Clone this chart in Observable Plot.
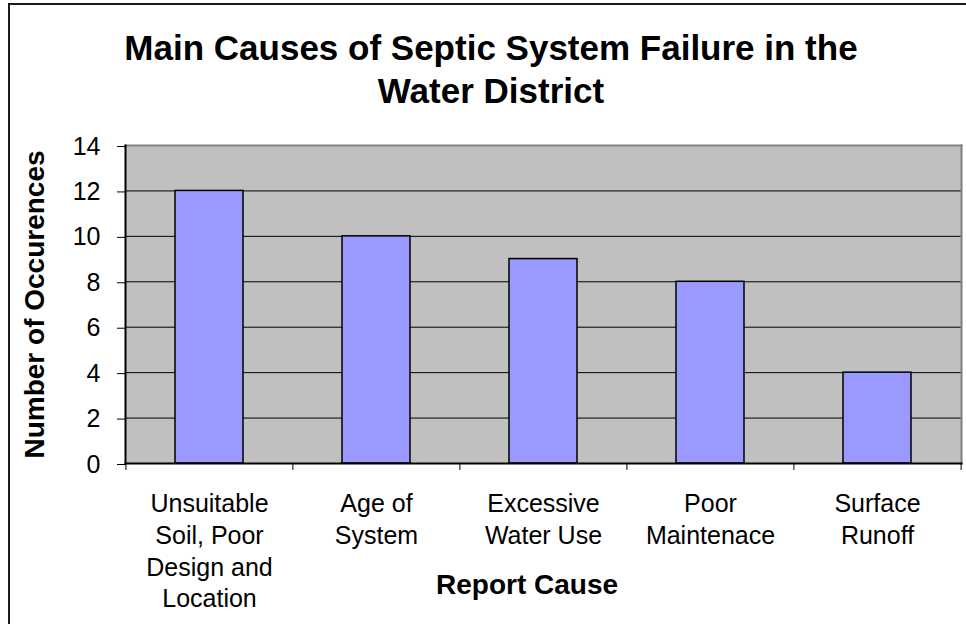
<!DOCTYPE html>
<html>
<head>
<meta charset="utf-8">
<script src="https://cdn.jsdelivr.net/npm/d3@7"></script>
<script src="https://cdn.jsdelivr.net/npm/@observablehq/plot@0.6"></script>
<style>
  html, body { margin: 0; padding: 0; background: white; }
  #wrap { position: relative; width: 966px; height: 624px; overflow: hidden; background: white;
          font-family: "Liberation Sans", Arial, sans-serif; }
  #border { position: absolute; left: 8px; top: 3px; width: 1200px; height: 1200px;
            border: 2px solid #1a1a1a; box-sizing: border-box; }
  #title { position: absolute; left: 0; top: 26px; width: 982px; text-align: center;
           font-weight: bold; font-size: 35px; line-height: 43px; color: #000; }
  #chart { position: absolute; left: 0; top: 0; }
</style>
</head>
<body>
<div id="wrap">
  <div id="border"></div>
  <div id="chart"></div>
  <div id="title">Main Causes of Septic System Failure in the<br>Water District</div>
</div>
<script>
const categories = [
  "Unsuitable Soil, Poor Design and Location",
  "Age of System",
  "Excessive Water Use",
  "Poor Maintenace",
  "Surface Runoff"
];
const values = [12, 10, 9, 8, 4];
const tickLabels = [
  "Unsuitable\nSoil, Poor\nDesign and\nLocation",
  "Age of\nSystem",
  "Excessive\nWater Use",
  "Poor\nMaintenace",
  "Surface\nRunoff"
];
const yTicks = [0, 2, 4, 6, 8, 10, 12, 14];
const gridValues = [2, 4, 6, 8, 10, 12];
const yTitle = "Number of Occurences";
const xTitle = "Report Cause";

const data = categories.map((c, i) => ({cause: c, count: values[i]}));
const labelOf = new Map(categories.map((c, i) => [c, tickLabels[i]]));

const W = 966, H = 624;
const mL = 125, mR = 5, mT = 145, mB = 161;
const halfStep = (W - mL - mR) / categories.length / 2;

const chart = Plot.plot({
  width: W,
  height: H,
  marginLeft: mL,
  marginRight: mR,
  marginTop: mT,
  marginBottom: mB,
  style: {fontFamily: '"Liberation Sans", Arial, sans-serif', fontSize: "25px", color: "#000", background: "transparent"},
  x: {type: "band", domain: categories, paddingInner: 0.59, paddingOuter: 0.295, axis: null},
  y: {domain: [0, 14], axis: null},
  marks: [
    Plot.frame({fill: "#c0c0c0", stroke: null}),
    Plot.ruleY(gridValues, {stroke: "#000", strokeWidth: 1}),
    Plot.frame({anchor: "top", stroke: "#808080", strokeWidth: 2}),
    Plot.frame({anchor: "right", stroke: "#808080", strokeWidth: 2}),
    Plot.barY(data, {x: "cause", y: "count", fill: "#9999ff", stroke: "#000", strokeWidth: 1.5}),
    Plot.frame({anchor: "left", stroke: "#000", strokeWidth: 2}),
    Plot.frame({anchor: "bottom", stroke: "#000", strokeWidth: 2}),
    Plot.axisY({ticks: yTicks, tickSize: 8, tickPadding: 17, fontSize: 25, dy: 1, label: null, tickFormat: d => String(d)}),
    Plot.axisX({tickSize: 0, tickPadding: 26, fontSize: 25, lineHeight: 1.27, label: null, tickFormat: d => labelOf.get(d)}),
    Plot.axisX({text: null, tickSize: 7, dx: -halfStep, label: null}),
    Plot.axisX([categories[categories.length - 1]], {text: null, tickSize: 7, dx: halfStep, label: null}),
    Plot.text([yTitle], {frameAnchor: "left", textAnchor: "middle", rotate: -90, dx: -90, fontSize: 28, fontWeight: "bold"}),
    Plot.text([xTitle], {frameAnchor: "bottom", dy: 130, dx: -16.5, fontSize: 28, fontWeight: "bold"})
  ]
});
document.getElementById("chart").appendChild(chart);
</script>
</body>
</html>
